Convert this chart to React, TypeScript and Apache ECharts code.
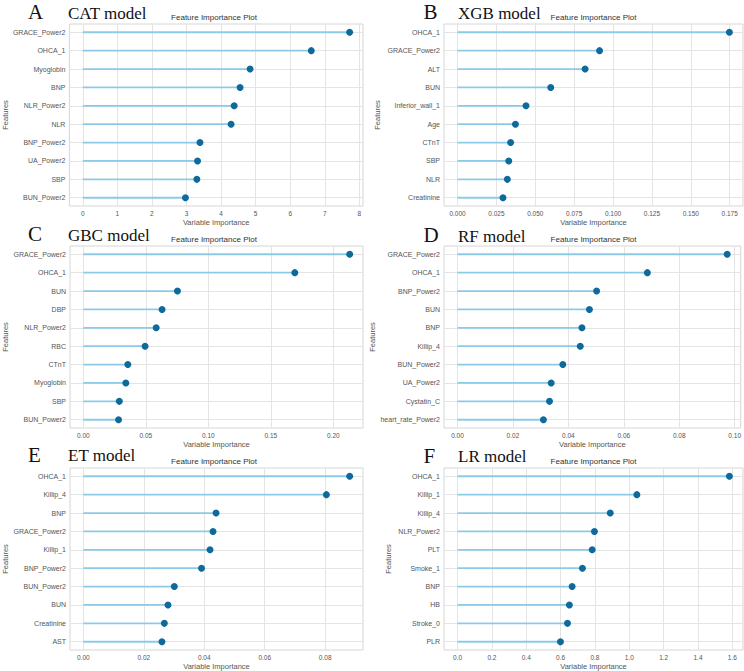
import React, { useEffect, useRef } from "react";
import * as echarts from "echarts";

// ---------- data ----------
const letters = ["A", "B", "C", "D", "E", "F"];
const modelNames = ["CAT model", "XGB model", "GBC model", "RF model", "ET model", "LR model"];

const featuresA = ["GRACE_Power2", "OHCA_1", "Myoglobin", "BNP", "NLR_Power2", "NLR", "BNP_Power2", "UA_Power2", "SBP", "BUN_Power2"];
const valuesA = [7.72, 6.61, 4.84, 4.55, 4.38, 4.29, 3.39, 3.32, 3.3, 2.97];
const ticksA = [0, 1, 2, 3, 4, 5, 6, 7, 8];

const featuresB = ["OHCA_1", "GRACE_Power2", "ALT", "BUN", "Inferior_wall_1", "Age", "CTnT", "SBP", "NLR", "Creatinine"];
const valuesB = [0.1748, 0.0913, 0.082, 0.0599, 0.044, 0.0372, 0.0341, 0.0329, 0.032, 0.0292];
const ticksB = [0, 0.025, 0.05, 0.075, 0.1, 0.125, 0.15, 0.175];

const featuresC = ["GRACE_Power2", "OHCA_1", "BUN", "DBP", "NLR_Power2", "RBC", "CTnT", "Myoglobin", "SBP", "BUN_Power2"];
const valuesC = [0.2131, 0.1692, 0.0753, 0.063, 0.0583, 0.0494, 0.0356, 0.034, 0.0288, 0.0282];
const ticksC = [0, 0.05, 0.1, 0.15, 0.2];

const featuresD = ["GRACE_Power2", "OHCA_1", "BNP_Power2", "BUN", "BNP", "Killip_4", "BUN_Power2", "UA_Power2", "Cystatin_C", "heart_rate_Power2"];
const valuesD = [0.0973, 0.0685, 0.0502, 0.0476, 0.0449, 0.0443, 0.038, 0.0338, 0.0332, 0.031];
const ticksD = [0, 0.02, 0.04, 0.06, 0.08, 0.1];

const featuresE = ["OHCA_1", "Killip_4", "BNP", "GRACE_Power2", "Killip_1", "BNP_Power2", "BUN_Power2", "BUN", "Creatinine", "AST"];
const valuesE = [0.0881, 0.0804, 0.0439, 0.0429, 0.0419, 0.0391, 0.0301, 0.028, 0.0268, 0.026];
const ticksE = [0, 0.02, 0.04, 0.06, 0.08];

const featuresF = ["OHCA_1", "Killip_1", "Killip_4", "NLR_Power2", "PLT", "Smoke_1", "BNP", "HB", "Stroke_0", "PLR"];
const valuesF = [1.583, 1.044, 0.889, 0.797, 0.784, 0.727, 0.667, 0.651, 0.64, 0.599];
const ticksF = [0, 0.2, 0.4, 0.6, 0.8, 1.0, 1.2, 1.4, 1.6];

const tickDecimals = [0, 3, 2, 2, 2, 1];
const plotTitle = "Feature Importance Plot";
const xName = "Variable Importance";
const yName = "Features";

const allFeatures = [featuresA, featuresB, featuresC, featuresD, featuresE, featuresF];
const allValues = [valuesA, valuesB, valuesC, valuesD, valuesE, valuesF];
const allTicks = [ticksA, ticksB, ticksC, ticksD, ticksE, ticksF];

// ---------- layout ----------
const W = 744;
const H = 671;
const colLeft = [65, 444];
const colWidth = [298, 299];
const rowTop = [24, 246, 468];
const plotH = 182;
const panelTop = [0, 222, 444];
const letterX = [28, 423.5];
const modelX = [68, 458];
const letterYOff = [1, 1, 1, 2, 0, 1];
const modelYOff = [13, 13, 13, 14, 11, 12];
const yNameGap = [60, 63, 61, 68, 61, 52];

const STEM = "#8dcae8";
const DOT = "#0f6a9c";
const GRID = "#e4e4e4";
const BORDER = "#d6d6d6";
const TICK = "#555555";
const SANS = "'Liberation Sans', Arial, sans-serif";
const SERIF = "'Liberation Serif', 'Times New Roman', serif";

export default function App() {
  const ref = useRef<HTMLDivElement>(null);

  useEffect(() => {
    if (!ref.current) return;
    const chart = echarts.init(ref.current, undefined, { renderer: "svg" });

    const grids: any[] = [];
    const xAxes: any[] = [];
    const yAxes: any[] = [];
    const series: any[] = [];
    const graphics: any[] = [];
    const idx = allFeatures[0].map((_, i) => i);

    for (let p = 0; p < 6; p++) {
      const col = p % 2;
      const row = Math.floor(p / 2);
      const feats = allFeatures[p];
      const vals = allValues[p];
      const maxV = Math.max(...vals);
      const dec = tickDecimals[p];

      grids.push({
        left: colLeft[col],
        width: colWidth[col],
        top: rowTop[row],
        height: plotH,
        show: true,
        borderColor: BORDER,
        borderWidth: 1,
        backgroundColor: "#ffffff",
      });

      xAxes.push({
        type: "value",
        gridIndex: p,
        min: -0.05 * maxV,
        max: 1.05 * maxV,
        name: xName,
        nameLocation: "middle",
        nameGap: 12,
        nameTextStyle: { fontSize: 7.5, color: TICK, fontFamily: SANS },
        axisLine: { show: false },
        axisTick: { show: false, customValues: allTicks[p] },
        axisLabel: {
          customValues: allTicks[p],
          formatter: (v: number) => v.toFixed(dec),
          fontSize: 6.5,
          color: TICK,
          fontFamily: SANS,
          margin: 4,
        },
        splitLine: { show: true, lineStyle: { color: GRID, width: 1 } },
      });

      yAxes.push({
        type: "value",
        gridIndex: p,
        min: -0.45,
        max: 9.45,
        inverse: true,
        name: yName,
        nameLocation: "middle",
        nameRotate: 90,
        nameGap: yNameGap[p],
        nameTextStyle: { fontSize: 7.5, color: TICK, fontFamily: SANS },
        axisLine: { show: false },
        axisTick: { show: false, customValues: idx },
        axisLabel: {
          customValues: idx,
          formatter: (v: number) => feats[Math.round(v)] ?? "",
          fontSize: 7,
          color: TICK,
          fontFamily: SANS,
          margin: 4,
        },
        splitLine: { show: true, lineStyle: { color: GRID, width: 1 } },
      });

      const data = vals.map((v, i) => [v, i]);

      series.push({
        type: "custom",
        xAxisIndex: p,
        yAxisIndex: p,
        encode: { x: 0, y: 1 },
        data,
        renderItem: (_params: any, api: any) => {
          const s = api.coord([0, api.value(1)]);
          const e = api.coord([api.value(0), api.value(1)]);
          return {
            type: "line",
            shape: { x1: s[0], y1: s[1], x2: e[0], y2: e[1] },
            style: { stroke: STEM, lineWidth: 1.8 },
          };
        },
        z: 2,
      });

      series.push({
        type: "scatter",
        xAxisIndex: p,
        yAxisIndex: p,
        data,
        symbol: "circle",
        symbolSize: 7,
        itemStyle: { color: DOT, opacity: 1 },
        z: 3,
      });

      const top = panelTop[row];
      graphics.push({
        type: "text",
        x: letterX[col],
        y: top + letterYOff[p],
        style: {
          text: letters[p],
          font: `21px ${SERIF}`,
          fill: "#111111",
          textAlign: "left",
          textVerticalAlign: "top",
        },
      });
      graphics.push({
        type: "text",
        x: modelX[col],
        y: top + modelYOff[p],
        style: {
          text: modelNames[p],
          font: `17px ${SERIF}`,
          fill: "#111111",
          textAlign: "left",
          textVerticalAlign: "middle",
        },
      });
      graphics.push({
        type: "text",
        x: colLeft[col] + colWidth[col] / 2,
        y: top + 17,
        style: {
          text: plotTitle,
          font: `8px ${SANS}`,
          fill: "#333333",
          textAlign: "center",
          textVerticalAlign: "middle",
        },
      });
    }

    chart.setOption({
      animation: false,
      backgroundColor: "#ffffff",
      grid: grids,
      xAxis: xAxes,
      yAxis: yAxes,
      series,
      graphic: graphics,
    });

    return () => chart.dispose();
  }, []);

  return (
    <div
      ref={ref}
      style={{ position: "absolute", left: 0, top: 0, width: W, height: H, background: "#fff" }}
    />
  );
}
